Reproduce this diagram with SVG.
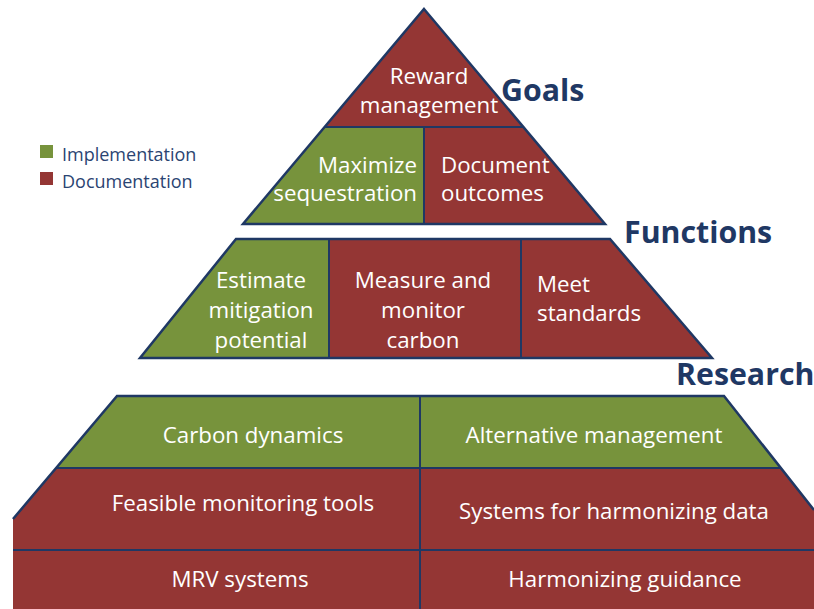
<svg xmlns="http://www.w3.org/2000/svg" width="814" height="609" viewBox="0 0 814 609">
  <style>
    .impl { fill: #77933c; }
    .doc { fill: #943634; }
    .edge { fill: none; stroke: #1f3864; stroke-width: 2.5; stroke-linejoin: miter; }
    .div { stroke: #1f3864; stroke-width: 2; }
    .t { font-family: "Open Sans", "Noto Sans", sans-serif; font-size: 22.3px; fill: #ffffff; }
    .mid { text-anchor: middle; }
    .end { text-anchor: end; }
    .tier { font-family: "Open Sans", "Noto Sans", sans-serif; font-weight: bold; font-size: 30.3px; fill: #1f3864; }
    .leg { font-family: "Open Sans", "Noto Sans", sans-serif; font-size: 18px; fill: #2b4472; }
  </style>
  <rect width="814" height="609" fill="#ffffff"/>

  <!-- Legend -->
  <g id="legend">
    <rect x="40" y="145" width="13" height="13" class="impl"/>
    <text x="62" y="161" class="leg">Implementation</text>
    <rect x="40" y="172" width="13" height="13" class="doc"/>
    <text x="62" y="188" class="leg">Documentation</text>
  </g>

  <!-- Goals tier -->
  <g id="goals">
    <polygon points="424,9 523,127 325,127" class="doc"/>
    <polygon points="325,127 424,127 424,224 243,224" class="impl"/>
    <polygon points="424,127 523,127 605,224 424,224" class="doc"/>
    <line x1="325" y1="127" x2="523" y2="127" class="div"/>
    <line x1="424" y1="127" x2="424" y2="224" class="div"/>
    <polygon points="424,9 605,224 243,224" class="edge"/>
    <g id="reward-management">
      <text x="429" y="84" class="t mid">Reward</text>
      <text x="429" y="113" class="t mid">management</text>
    </g>
    <g id="maximize-sequestration">
      <text x="417" y="173" class="t end">Maximize</text>
      <text x="417" y="201" class="t end">sequestration</text>
    </g>
    <g id="document-outcomes">
      <text x="441" y="173" class="t">Document</text>
      <text x="441" y="201" class="t">outcomes</text>
    </g>
    <text x="501" y="101" class="tier">Goals</text>
  </g>

  <!-- Functions tier -->
  <g id="functions">
    <polygon points="236,239 329,239 329,358 140,358" class="impl"/>
    <polygon points="329,239 521,239 521,358 329,358" class="doc"/>
    <polygon points="521,239 610,239 712,358 521,358" class="doc"/>
    <line x1="329" y1="239" x2="329" y2="358" class="div"/>
    <line x1="521" y1="239" x2="521" y2="358" class="div"/>
    <polygon points="236,239 610,239 712,358 140,358" class="edge"/>
    <g id="estimate-mitigation">
      <text x="261" y="288" class="t mid">Estimate</text>
      <text x="261" y="318" class="t mid">mitigation</text>
      <text x="261" y="348" class="t mid">potential</text>
    </g>
    <g id="measure-monitor">
      <text x="423" y="288" class="t mid">Measure and</text>
      <text x="423" y="318" class="t mid">monitor</text>
      <text x="423" y="348" class="t mid">carbon</text>
    </g>
    <g id="meet-standards">
      <text x="537" y="292" class="t">Meet</text>
      <text x="537" y="321" class="t">standards</text>
    </g>
    <text x="624" y="243" class="tier">Functions</text>
  </g>

  <!-- Research tier -->
  <g id="research">
    <polygon points="117,396 724,396 781,468 56,468" class="impl"/>
    <polygon points="56,468 781,468 814,510 814,550 13,550 13,519" class="doc"/>
    <rect x="13" y="550" width="801" height="59" class="doc"/>
    <line x1="56" y1="468" x2="781" y2="468" class="div"/>
    <line x1="13" y1="550" x2="814" y2="550" class="div"/>
    <line x1="420" y1="396" x2="420" y2="609" class="div"/>
    <polyline points="13,519 117,396 724,396 814,510" class="edge"/>
    <g id="carbon-dynamics"><text x="253" y="443" class="t mid">Carbon dynamics</text></g>
    <g id="alternative-management"><text x="594" y="443" class="t mid">Alternative management</text></g>
    <g id="feasible-tools"><text x="243" y="511" class="t mid">Feasible monitoring tools</text></g>
    <g id="harmonizing-data"><text x="614" y="519" class="t mid">Systems for harmonizing data</text></g>
    <g id="mrv-systems"><text x="240" y="587" class="t mid">MRV systems</text></g>
    <g id="harmonizing-guidance"><text x="625" y="587" class="t mid">Harmonizing guidance</text></g>
    <text x="676" y="385" class="tier">Research</text>
  </g>
</svg>
